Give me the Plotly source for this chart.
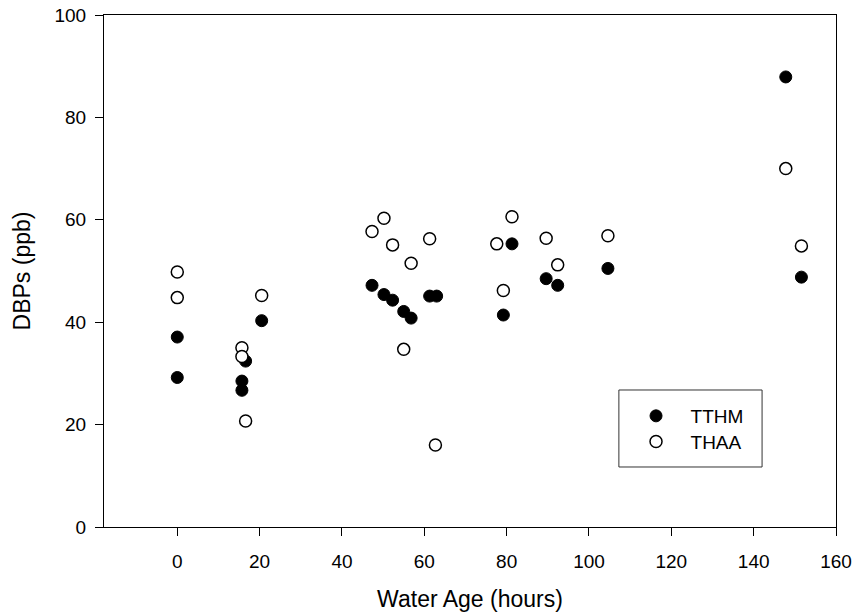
import plotly.graph_objects as go

# Water age (hours) and disinfection by-product concentrations (ppb)
tthm_age = [0, 0, 15.7, 15.7, 16.6, 20.5, 47.3, 50.2, 52.3, 55.0, 56.8,
            61.3, 63.0, 79.2, 81.3, 89.6, 92.4, 104.6, 147.8, 151.6]
tthm_val = [37.1, 29.2, 28.5, 26.7, 32.4, 40.3, 47.2, 45.4, 44.3, 42.1, 40.8,
            45.1, 45.1, 41.4, 55.3, 48.5, 47.2, 50.5, 87.9, 48.8]

thaa_age = [0, 0, 15.7, 15.7, 16.6, 20.5, 47.3, 50.2, 52.3, 55.0, 56.8,
            61.3, 62.7, 77.6, 79.2, 81.3, 89.6, 92.4, 104.6, 147.8, 151.6]
thaa_val = [49.8, 44.8, 35.0, 33.3, 20.7, 45.2, 57.7, 60.3, 55.1, 34.7, 51.5,
            56.3, 16.0, 55.3, 46.2, 60.6, 56.4, 51.2, 56.9, 70.0, 54.9]

x_ticks = [0, 20, 40, 60, 80, 100, 120, 140, 160]
y_ticks = [0, 20, 40, 60, 80, 100]

FONT = "Arial, Liberation Sans, sans-serif"

fig = go.Figure()
fig.add_trace(go.Scatter(
    x=tthm_age, y=tthm_val, mode="markers", name="TTHM", legend="legend",
    marker=dict(symbol="circle", size=12, color="black",
                line=dict(color="black", width=1)),
))
fig.add_trace(go.Scatter(
    x=thaa_age, y=thaa_val, mode="markers", name="THAA", legend="legend2",
    marker=dict(symbol="circle", size=12, color="white",
                line=dict(color="black", width=1.5)),
))

# legend frame
fig.add_shape(type="rect", xref="paper", yref="paper",
              x0=0.7034, x1=0.899, y0=0.1172, y1=0.2676,
              line=dict(color="#333333", width=1), fillcolor="rgba(0,0,0,0)")

axis_common = dict(
    showline=True, linecolor="black", linewidth=1, mirror=True,
    ticks="outside", ticklen=8, tickwidth=1, tickcolor="black",
    showgrid=False, zeroline=False, automargin=False,
    tickfont=dict(family=FONT, size=19, color="black"),
)

legend_common = dict(
    xanchor="left", yanchor="middle",
    bgcolor="rgba(0,0,0,0)", borderwidth=0,
    font=dict(family=FONT, size=19, color="black"),
    itemwidth=59,
)

fig.update_layout(
    width=854, height=613,
    margin=dict(l=104, r=18, t=15, b=86),
    paper_bgcolor="white", plot_bgcolor="white",
    font=dict(family=FONT, color="black"),
    showlegend=True,
    legend=dict(x=0.707, y=0.2168, **legend_common),
    legend2=dict(x=0.707, y=0.1666, **legend_common),
    xaxis=dict(range=[-17.8, 160], tickvals=x_ticks,
               ticklabelstandoff=9,
               title=dict(text="Water Age (hours)", standoff=20,
                          font=dict(family=FONT, size=23, color="black")),
               **axis_common),
    yaxis=dict(range=[0, 100], tickvals=y_ticks,
               ticklabelstandoff=5,
               title=dict(text="DBPs (ppb)", standoff=17,
                          font=dict(family=FONT, size=23, color="black")),
               **axis_common),
)

fig.write_html("out.html")
